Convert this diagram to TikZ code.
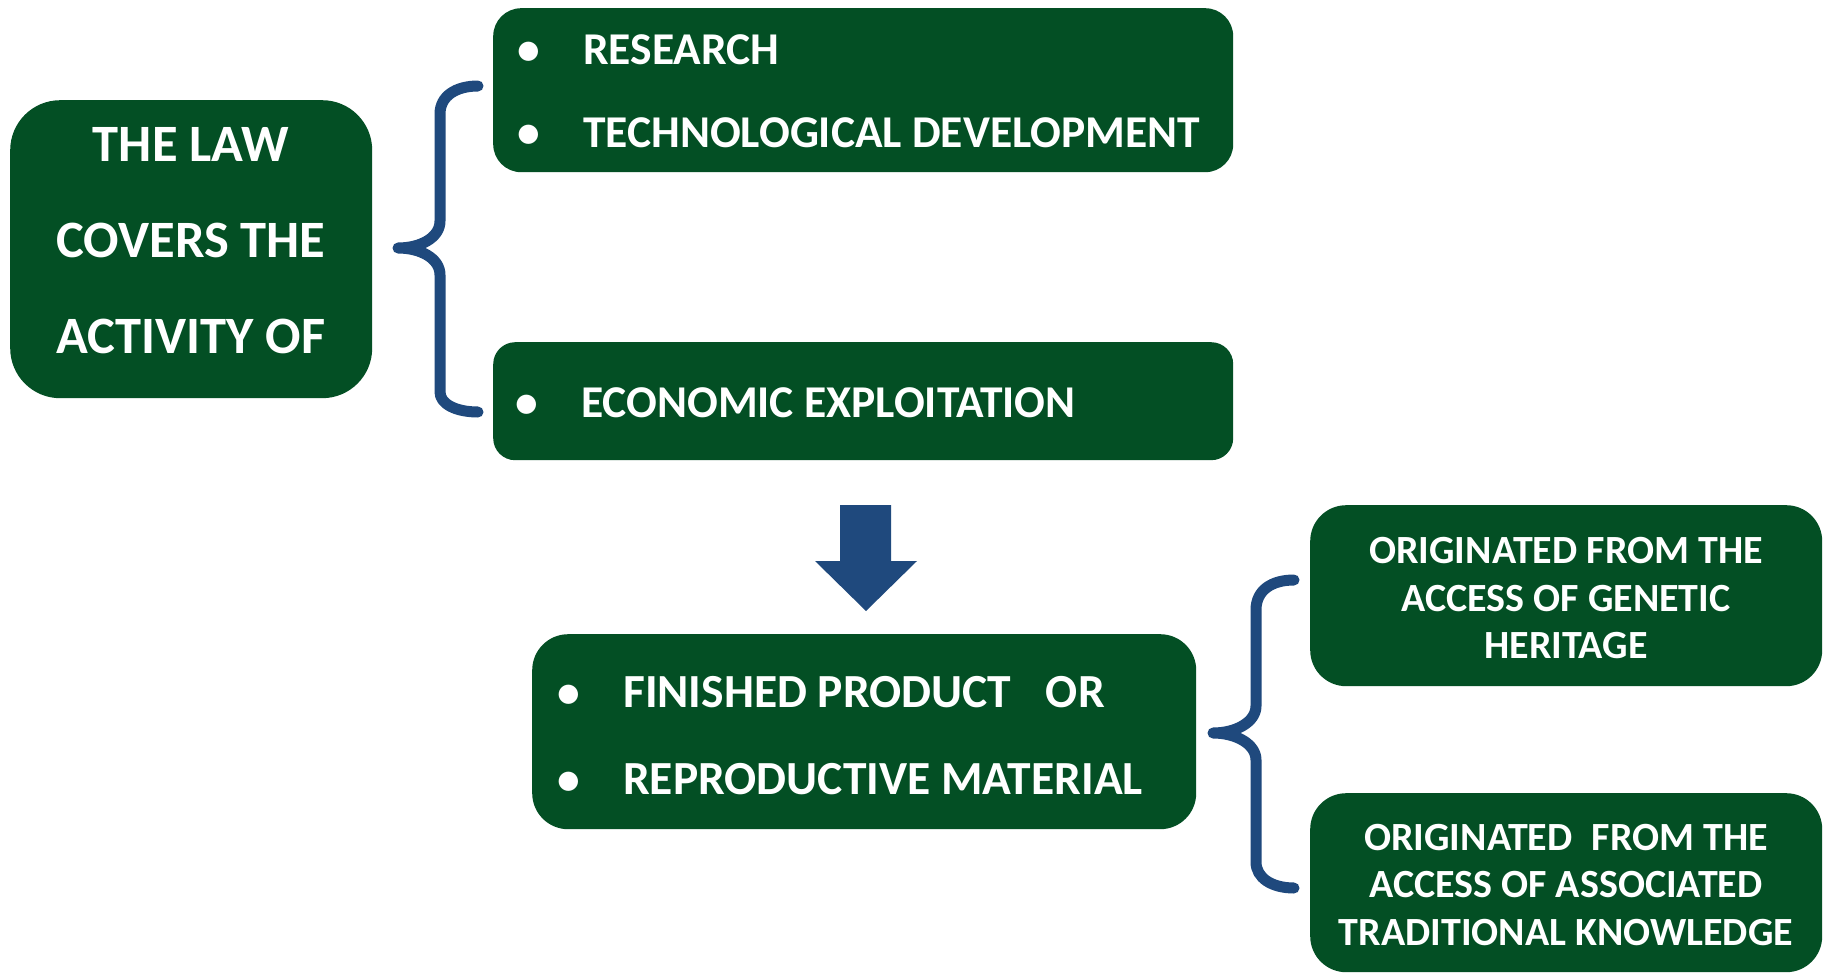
\documentclass[tikz,border=0pt]{standalone}
\usepackage{fontspec}
\setmainfont{Carlito}
\definecolor{boxgreen}{HTML}{034F24}
\definecolor{braceblue}{HTML}{1F497D}
\begin{document}
\begin{tikzpicture}[x=1pt,y=-1pt,
  box/.style={fill=boxgreen, draw=none, inner sep=0pt, anchor=north west},
  big/.style={text=white, inner sep=0pt, font=\fontsize{45.5}{54}\selectfont\bfseries},
  bigger/.style={text=white, inner sep=0pt, font=\fontsize{47.5}{56}\selectfont\bfseries},
  bul/.style={text=white, inner sep=0pt, anchor=base, font=\fontsize{45.5}{54}\selectfont\bfseries},
  small/.style={text=white, inner sep=0pt, align=center, font=\fontsize{40}{47.5}\selectfont\bfseries},
  brace/.style={draw=braceblue, line width=11pt, line cap=round, line join=round}]
\useasboundingbox (0,0) rectangle (1824,974);
\fill[white] (0,0) rectangle (1824,974);
% boxes
\node[box, rounded corners=50pt, minimum width=362pt, minimum height=298pt] (law) at (10,100) {};
\node[box, rounded corners=28pt, minimum width=740pt, minimum height=164pt] (rd) at (493,8) {};
\node[box, rounded corners=22pt, minimum width=740pt, minimum height=118pt] (ec) at (493,342) {};
\node[box, rounded corners=36pt, minimum width=664pt, minimum height=195pt] (fp) at (532,634) {};
\node[box, rounded corners=36pt, minimum width=512pt, minimum height=181pt] (gh) at (1310,505) {};
\node[box, rounded corners=36pt, minimum width=512pt, minimum height=179pt] (tk) at (1310,793) {};
% texts
\node[big, align=center, font=\fontsize{52.5}{96}\selectfont\bfseries] (lawtxt) at (191,240.5) {THE LAW\\COVERS THE\\ACTIVITY OF};
\node[bul] (b1) at (529,65) {•};
\node[big, anchor=base west] (t1) at (583,65) {RESEARCH};
\node[bul] (b2) at (529,147) {•};
\node[big, anchor=base west] (t2) at (583,147) {TECHNOLOGICAL DEVELOPMENT};
\node[bul] (b3) at (527,417) {•};
\node[big, anchor=base west] (t3) at (581,417) {ECONOMIC EXPLOITATION};
\node[bul] (b4) at (569,707) {•};
\node[bigger, anchor=base west] (t4) at (623,707) {FINISHED PRODUCT\hspace{0.5em} OR};
\node[bul] (b5) at (569,794) {•};
\node[bigger, anchor=base west] (t5) at (623,794) {REPRODUCTIVE MATERIAL};
\node[small] (ghtxt) at (1566,598.5) {ORIGINATED FROM THE\\ACCESS OF GENETIC\\HERITAGE};
\node[small] (tktxt) at (1566,885) {ORIGINATED\hspace{0.25em} FROM THE\\ACCESS OF ASSOCIATED\\TRADITIONAL KNOWLEDGE};
% braces
\draw[brace] (478,86) .. controls (456,86) and (440,96) .. (440,114) -- (440,221)
  .. controls (440,238) and (420,248) .. (398,248)
  .. controls (420,248) and (440,258) .. (440,275) -- (440,392)
  .. controls (440,404) and (456,412) .. (478,412);
\draw[brace] (1294,580) .. controls (1272,580) and (1256,590) .. (1256,610) -- (1256,706)
  .. controls (1256,722) and (1236,733) .. (1213,733)
  .. controls (1236,733) and (1256,744) .. (1256,760) -- (1256,862)
  .. controls (1256,878) and (1272,888) .. (1294,888);
% arrow
\fill[braceblue] (840,505) -- (891,505) -- (891,561) -- (917,561) -- (866,611) -- (815,561) -- (840,561) -- cycle;
\end{tikzpicture}
\end{document}
